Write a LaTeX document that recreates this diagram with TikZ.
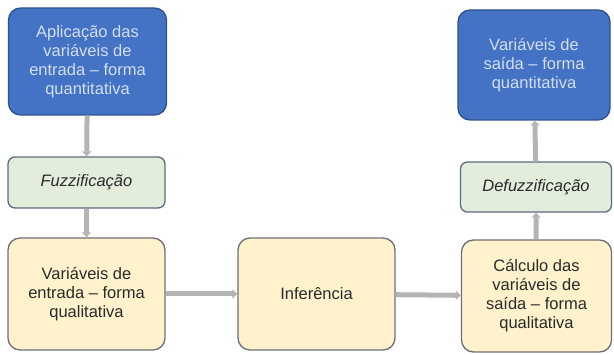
\documentclass[tikz,border=0pt]{standalone}
\usepackage{fontspec}
\setmainfont{Liberation Sans}
\usetikzlibrary{arrows.meta}
\definecolor{bluefill}{HTML}{4472C4}
\definecolor{blueedge}{HTML}{2F528F}
\definecolor{bluetext}{HTML}{D3DEF2}
\definecolor{greenfill}{HTML}{E3EDDC}
\definecolor{greenedge}{HTML}{5E6A80}
\definecolor{yelfill}{HTML}{FFF2CC}
\definecolor{yeledge}{HTML}{6E6E78}
\definecolor{arrowgray}{HTML}{B4B4B4}
\definecolor{txt}{HTML}{2A2A2A}
\tikzset{
  box/.style={draw, line width=1.3pt, rounded corners=12pt, align=center, inner sep=0pt,
    font=\fontsize{16.5}{19}\selectfont},
  bluebox/.style={box, fill=bluefill, draw=blueedge, text=bluetext},
  greenbox/.style={box, fill=greenfill, draw=greenedge, text=txt, rounded corners=7pt,
    font=\fontsize{16.5}{19}\selectfont\itshape},
  yelbox/.style={box, fill=yelfill, draw=yeledge, text=txt},
  conn/.style={draw=arrowgray, line width=5pt, -{Triangle[length=5pt,width=9pt]}}
}
\begin{document}
\begin{tikzpicture}[x=1pt,y=-1pt]
\useasboundingbox (0,0) rectangle (614,355);
\node[bluebox, minimum width=158pt, minimum height=107pt] (in) at (87.5,61.5)
  {Aplicação das\\variáveis de\\entrada – forma\\quantitativa};
\node[greenbox, minimum width=157pt, minimum height=51pt] (fuz) at (86.5,182.5) {Fuzzificação};
\node[yelbox, minimum width=157pt, minimum height=112pt] (ql) at (86.5,294) {Variáveis de\\entrada – forma\\qualitativa};
\node[yelbox, minimum width=157pt, minimum height=112pt] (inf) at (316.5,294) {Inferência};
\node[yelbox, minimum width=150pt, minimum height=112pt] (calc) at (536.5,296) {Cálculo das\\variáveis de\\saída – forma\\qualitativa};
\node[greenbox, minimum width=151pt, minimum height=50pt] (def) at (536,187) {Defuzzificação};
\node[bluebox, minimum width=152pt, minimum height=110pt] (out) at (534,65) {Variáveis de\\saída – forma\\quantitativa};
\draw[conn] (in) -- (fuz);
\draw[conn] (fuz) -- (ql);
\draw[conn] (ql) -- (inf);
\draw[conn] (inf) -- (calc);
\draw[conn] (calc) -- (def);
\draw[conn] (def) -- (out);
\end{tikzpicture}
\end{document}
